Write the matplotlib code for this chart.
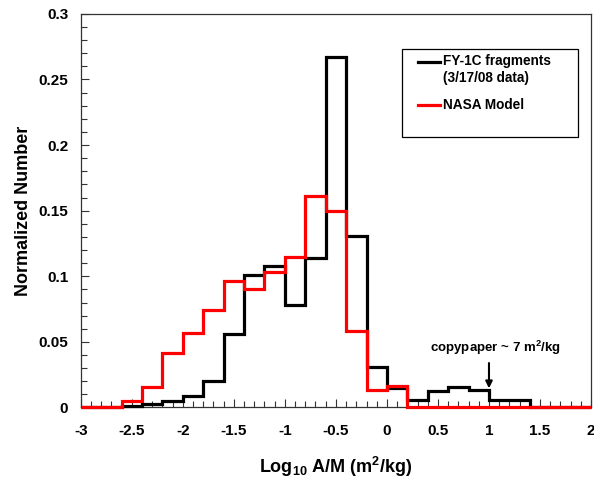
import matplotlib
matplotlib.use("Agg")
import matplotlib.pyplot as plt
from matplotlib.ticker import MultipleLocator, FormatStrFormatter

# bin edges of Log10 A/M
bin_edges = [-3.0, -2.8, -2.6, -2.4, -2.2, -2.0, -1.8, -1.6, -1.4, -1.2, -1.0,
             -0.8, -0.6, -0.4, -0.2, 0.0, 0.2, 0.4, 0.6, 0.8, 1.0, 1.2, 1.4,
             1.6, 1.8, 2.0]

fy1c = [0, 0, 0.001, 0.0026, 0.0052, 0.0087, 0.0205, 0.056, 0.101, 0.108,
        0.078, 0.114, 0.267, 0.1305, 0.031, 0.0146, 0.0057, 0.0122, 0.0156,
        0.013, 0.0057, 0.006, 0, 0, 0]
nasa = [0, 0, 0.0052, 0.0156, 0.0417, 0.057, 0.0745, 0.0965, 0.0905, 0.103,
        0.115, 0.1615, 0.1495, 0.0585, 0.0135, 0.0167, 0, 0, 0, 0, 0, 0, 0,
        0, 0]

labels = ["FY-1C fragments\n(3/17/08 data)", "NASA Model"]

plt.rcParams["font.family"] = ["Liberation Sans", "DejaVu Sans"]
plt.rcParams["font.weight"] = "bold"
plt.rcParams["mathtext.fontset"] = "custom"
plt.rcParams["mathtext.rm"] = "Liberation Sans:bold"
plt.rcParams["mathtext.default"] = "rm"

fig = plt.figure(figsize=(5.94, 4.78), dpi=100)
ax = fig.add_axes([0.136, 0.1475, 0.859, 0.8235])

ax.stairs(fy1c, bin_edges, baseline=None, color="black", lw=2.3, clip_on=False, zorder=3)
ax.stairs(nasa, bin_edges, baseline=None, color="#ff0000", lw=2.3, clip_on=False, zorder=4)

ax.set_xlim(-3, 2)
ax.set_ylim(0, 0.3)
ax.xaxis.set_major_locator(MultipleLocator(0.5))
ax.xaxis.set_minor_locator(MultipleLocator(0.1))
ax.yaxis.set_major_locator(MultipleLocator(0.05))
ax.yaxis.set_minor_locator(MultipleLocator(0.01))
ax.xaxis.set_major_formatter(FormatStrFormatter("%g"))
ax.yaxis.set_major_formatter(FormatStrFormatter("%g"))
ax.tick_params(which="both", direction="in", color="#333333", width=0.8)
ax.tick_params(which="major", length=6, labelsize=11)
ax.tick_params(axis="x", which="major", pad=12)
ax.tick_params(axis="y", which="major", pad=9)
ax.tick_params(which="minor", length=4)
for s in ax.spines.values():
    s.set_color("#333333")
    s.set_linewidth(0.9)

ax.set_xlabel(r"Log$_{10}$ A/M (m$^2$/kg)", fontsize=13, fontweight="bold", labelpad=12)
ax.set_ylabel("Normalized Number", fontsize=13, fontweight="bold", labelpad=5)

# legend box drawn by hand
box = plt.Rectangle((0.629, 0.686), 0.346, 0.224, transform=ax.transAxes,
                    fill=False, edgecolor="black", lw=0.9, zorder=5)
ax.add_patch(box)
ax.plot([0.661, 0.704], [0.878, 0.878], color="black", lw=2.3,
        transform=ax.transAxes, zorder=5)
ax.text(0.709, 0.899, labels[0], transform=ax.transAxes, fontsize=9.8,
        fontweight="bold", va="top", ha="left", linespacing=1.3)
ax.plot([0.661, 0.704], [0.769, 0.769], color="#ff0000", lw=2.3,
        transform=ax.transAxes, zorder=5)
ax.text(0.709, 0.769, labels[1], transform=ax.transAxes, fontsize=9.8,
        fontweight="bold", va="center", ha="left")

ax.annotate("", xy=(1.0, 0.0125), xytext=(1.0, 0.036),
            arrowprops=dict(arrowstyle="-|>", color="black", lw=1.5,
                            mutation_scale=10))
ax.text(1.064, 0.0454, r"copypaper ~ 7 m$^2$/kg", fontsize=9.5,
        fontweight="bold", ha="center", va="center")

fig.savefig("out.png", dpi=100)
